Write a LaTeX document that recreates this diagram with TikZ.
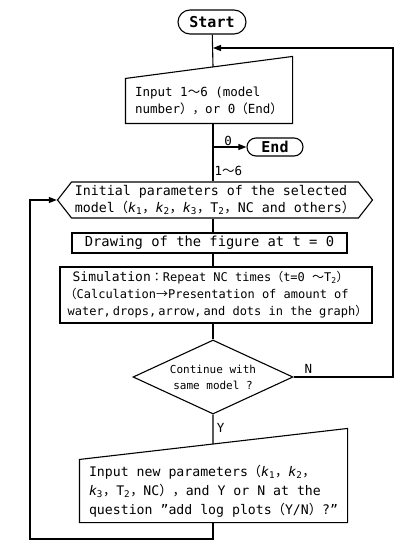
\documentclass[tikz,border=0pt]{standalone}
\usepackage{fontspec}
\setmainfont{DejaVu Sans Mono}
\newfontfamily\cjk{Noto Sans CJK JP}
\usetikzlibrary{shapes.geometric,shapes.misc,shapes.symbols,arrows.meta}

\newcommand{\fw}[1]{{\cjk #1}}
\newcommand{\kk}[1]{{\itshape k}\textsubscript{#1}}

\begin{document}
\begin{tikzpicture}[x=1pt,y=-1pt,
	line width=1.1pt,
	every node/.style={font=\fontsize{12.5}{17}\selectfont},
	term/.style={rounded rectangle, draw, inner sep=0pt,
		font=\fontsize{15}{17}\selectfont\bfseries},
	procbox/.style={draw, inner xsep=4pt, inner ysep=0pt, align=left},
	inbox/.style={inner sep=0pt, align=left},
	prepbox/.style={signal, signal to=west and east, signal pointer angle=104,
		draw, inner sep=0pt, align=left},
	decbox/.style={diamond, draw, aspect=2.16, inner sep=0pt, align=center,
		font=\fontsize{11}{16}\selectfont},
	flow/.style={-{Triangle[length=8pt,width=6pt]}}]
	%\draw[help lines] (0,0) grid (413,556);
	\useasboundingbox (0,0) rectangle (413,556);
	
	% terminals
	\node[term, minimum width=68, minimum height=24] (start) at (212,22) {Start};
	\node[term, minimum width=56, minimum height=18] (end) at (275,147) {End};
	
	% input of model number
	\node[inbox, minimum width=166, minimum height=44] (inp) at (209,101)
		{Input 1\fw{～}6 (model\\number\fw{），}or 0\fw{（}End\fw{）}};
	\draw (inp.south west) -- (inp.north west) -- ([yshift=22pt]inp.north east)
		-- (inp.south east) -- cycle;
	\path (inp.north west) -- ([yshift=22pt]inp.north east) coordinate[pos=0.524] (inptop);
	
	% preparation
	\node[prepbox, minimum width=315, minimum height=36,
		font=\fontsize{13.3}{17}\selectfont] (prep) at (215,200)
		{Initial parameters of the selected\\model\fw{（}\kk{1}\fw{，}\kk{2}\fw{，}\kk{3}\fw{，}T\textsubscript{2}\fw{，}NC and others\fw{）}};
	
	% processes
	\node[procbox, minimum width=275, minimum height=20,
		font=\fontsize{13.8}{17}\selectfont] (drw) at (209.5,243)
		{Drawing of the figure at t = 0};
	\node[procbox, minimum width=312, minimum height=56,
		font=\fontsize{12}{17}\selectfont] (sim) at (216,295)
		{\hspace{8pt}{\fontsize{13}{17}\selectfont Simulation}\fw{：}Repeat NC times\fw{（}t=0 \fw{～}T\textsubscript{2}\fw{）}\\
		 \fw{（}Calculation\fw{→}Presentation of amount of\\
		 \hspace{3pt}water,\,drops,\,arrow,\,and dots in the graph\fw{）}};
	
	% decision
	\node[decbox, minimum width=160, minimum height=74] (dec) at (213,377)
		{Continue with\\same model ?};
	
	% input of new parameters
	\node[inbox, minimum width=267, minimum height=62,
		font=\fontsize{13.2}{19}\selectfont] (newp) at (213.5,491)
		{Input new parameters\fw{（}\kk{1}\fw{，}\kk{2}\fw{，}\\
		 \kk{3}\fw{，}T\textsubscript{2}\fw{，}NC\fw{），}and Y or N at the\\
		 question "add log plots\fw{（}Y/N\fw{）}?"};
	\draw (newp.south west) -- (newp.north west) -- ([yshift=31pt]newp.north east)
		-- (newp.south east) -- cycle;
	\path (newp.north west) -- ([yshift=31pt]newp.north east) coordinate[pos=0.498] (newtop);
	
	\coordinate (back) at (213,48);
	\coordinate (rt) at (393,48);
	\coordinate (br) at (213,147);
	\coordinate (lf) at (30,539);
	
	% main line
	\draw (start) -- (inptop);
	\draw (back |- inp.south) -- (back |- prep.north);
	\draw[flow] (br) -- node[above, inner sep=1pt, pos=0.45] {0} (end.west);
	\node[anchor=west, inner sep=1pt] (one) at (213,171) {1\fw{～}6};
	\draw (back |- prep.south) -- (back |- drw.north);
	\draw (back |- drw.south) -- (back |- sim.north);
	\draw (back |- sim.south) -- (dec.north);
	\draw (dec.south) -- node[right, pos=0.45] {Y} (newtop);
	
	% loops
	\draw[flow] (dec.east) -- node[above, pos=0.15] {N} (dec.east -| rt) -- (rt) -- (back);
	\draw[flow] (back |- newp.south) |- (lf) |- (prep.west);
\end{tikzpicture}
\end{document}
